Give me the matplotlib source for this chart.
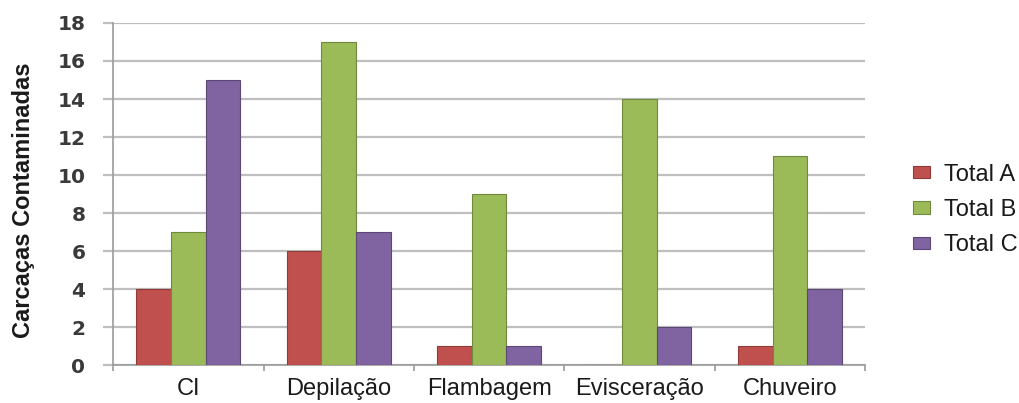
import matplotlib
matplotlib.use("Agg")
import matplotlib.pyplot as plt
import numpy as np

categories = ["CI", "Depilação", "Flambagem", "Evisceração", "Chuveiro"]
series_names = ["Total A", "Total B", "Total C"]
total_a = [4, 6, 1, 0, 1]
total_b = [7, 17, 9, 14, 11]
total_c = [15, 7, 1, 2, 4]
yticks = [0, 2, 4, 6, 8, 10, 12, 14, 16, 18]

colors = ["#C0504D", "#9BBB59", "#8064A2"]
edges = ["#8E3B39", "#71893F", "#5C4876"]

fig = plt.figure(figsize=(10.19, 4.03), dpi=100)
ax = fig.add_axes([0.111, 0.094, 0.738, 0.849])

x = np.arange(len(categories))
width = 0.23
for i, (vals, name) in enumerate(zip([total_a, total_b, total_c], series_names)):
    ax.bar(x + (i - 1) * width, vals, width, color=colors[i], edgecolor=edges[i],
           linewidth=0.8, label=name, zorder=3)

ax.set_xlim(-0.5, len(categories) - 0.5)
ax.set_ylim(0, 18)
ax.set_yticks(yticks)
ax.set_yticklabels([str(t) for t in yticks], fontsize=14.5, fontweight="bold",
                   color="#3a3a3a", family="DejaVu Sans")
ax.yaxis.grid(True, color="#BFBFBF", linewidth=1.6, zorder=0)
ax.set_axisbelow(True)

# category labels centred, tick marks on the category boundaries
ax.set_xticks(x)
ax.set_xticklabels(categories, fontsize=17, family="Liberation Sans", color="#1a1a1a")
ax.tick_params(axis="x", length=0, pad=9)
ax.set_xticks(np.arange(-0.5, len(categories)), minor=True)
ax.tick_params(axis="x", which="minor", length=4, color="#9a9a9a", width=1.2)
ax.tick_params(axis="y", length=7, color="#BFBFBF", width=1.6, pad=13)

for side in ["top", "right"]:
    ax.spines[side].set_visible(False)
ax.spines["left"].set_color("#9a9a9a")
ax.spines["left"].set_linewidth(1.2)
ax.spines["bottom"].set_color("#9a9a9a")
ax.spines["bottom"].set_linewidth(1.2)

fig.text(0.0226, 0.504, "Carcaças Contaminadas", rotation=90, ha="center", va="center",
         fontsize=17, fontweight="bold", family="Liberation Sans", color="#1a1a1a")

leg = fig.legend(loc="center left", bbox_to_anchor=(0.896, 0.479), frameon=False,
                 prop={"family": "Liberation Sans", "size": 17},
                 handlelength=0.72, handleheight=0.42, labelspacing=0.56,
                 handletextpad=0.6, borderaxespad=0, borderpad=0)
for t in leg.get_texts():
    t.set_color("#1a1a1a")

fig.savefig("out.png", dpi=100)
